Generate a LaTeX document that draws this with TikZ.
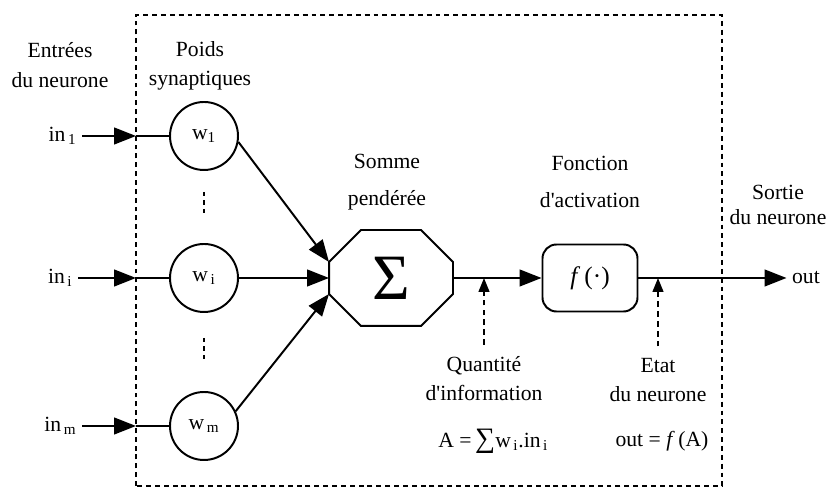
\documentclass[tikz,border=0pt]{standalone}
\usepackage{fontspec}
\setmainfont{Liberation Serif}
\usetikzlibrary{arrows.meta}

\begin{document}
\begin{tikzpicture}[>={Triangle[length=0.55cm,width=0.42cm]}, line width=1.4pt,
    every node/.style={font=\fontsize{15.4}{21}\selectfont},
    weight/.style={draw, circle, minimum size=1.7cm, inner sep=0pt},
    tag/.style={align=center},
    infoarrow/.style={dash pattern=on 4pt off 3pt, -{Triangle[length=0.35cm,width=0.27cm]}}]
    \useasboundingbox (0,0) rectangle (21,12.25);

    % Neuron frame
    \draw[dash pattern=on 3.5pt off 2.8pt] (3.4,0.1) rectangle (18.05,11.875);

    % Inputs
    \node[anchor=east] (in1) at (2.05,8.85) {in\textsubscript{\,1}};
    \node[anchor=east] (ini) at (1.95,5.3) {in\textsubscript{\,i}};
    \node[anchor=east] (inm) at (2.05,1.6) {in\textsubscript{\,m}};
    \coordinate (e1) at (3.4,8.85);
    \coordinate (ei) at (3.4,5.3);
    \coordinate (em) at (3.4,1.6);

    % Synaptic weights
    \node[weight] (w1) at (5.1,8.85) {w\textsubscript{1}};
    \node[weight] (wi) at (5.1,5.3) {w\textsubscript{\,i}};
    \node[weight] (wm) at (5.1,1.6) {w\textsubscript{\,m}};
    \draw[->] (in1) -- (e1);
    \draw (e1) -- (w1);
    \draw[->] (ini) -- (ei);
    \draw (ei) -- (wi);
    \draw[->] (inm) -- (em);
    \draw (em) -- (wm);
    \draw[dash pattern=on 3pt off 3pt] (5.1,7.45) -- (5.1,6.85);
    \draw[dash pattern=on 3pt off 3pt] (5.1,3.8) -- (5.1,3.2);

    % Weighted sum
    \node[minimum width=3.05cm, minimum height=2.35cm, inner sep=0pt] (sum) at (9.775,5.3)
        {\fontsize{46}{46}\selectfont Σ};
    \draw ([xshift=0.8cm]sum.north west) -- ([xshift=-0.8cm]sum.north east)
        -- ([yshift=-0.8cm]sum.north east) -- ([yshift=0.8cm]sum.south east)
        -- ([xshift=-0.8cm]sum.south east) -- ([xshift=0.8cm]sum.south west)
        -- ([yshift=0.8cm]sum.south west) -- ([yshift=-0.8cm]sum.north west) -- cycle;
    \coordinate (sumtl) at ([yshift=-0.8cm]sum.north west);
    \coordinate (sumbl) at ([yshift=0.8cm]sum.south west);
    \draw[->] (w1.-10) -- (sumtl);
    \draw[->] (wi) -- (sum);
    \draw[->] (wm.25) -- (sumbl);

    % Activation function and output
    \node[draw, rounded corners=0.35cm, minimum width=2.375cm, minimum height=1.675cm] (f) at (14.75,5.3)
        {\fontsize{18}{18}\selectfont\textit{f}\,(·)};
    \draw[->] (sum) -- (f);
    \node (out) at (20.15,5.3) {out};
    \draw[->] (f) -- (out);

    % Information and state
    \coordinate (qa) at (12.1,5.3);
    \coordinate (ea) at (16.45,5.3);
    \node[tag] (qty) at (12.1,2.78) {Quantité\\d\textquotesingle information};
    \node[tag] (state) at (16.45,2.75) {Etat\\du neurone};
    \draw[infoarrow] ([yshift=0.15cm]qty.north) -- (qa);
    \draw[infoarrow] ([yshift=0.15cm]state.north) -- (ea);
    \node (sumA) at (12.33,1.225) {A =\,{\fontsize{20}{20}\selectfont ∑}w\textsubscript{\,i}.in\textsubscript{\,i}};
    \node (outA) at (16.55,1.225) {out = \textit{f}\,(A)};

    % Headings
    \node[tag] (inputs) at (1.5,10.625) {Entrées\\du neurone};
    \node[tag] (weights) at (5.0,10.6) {Poids\\synaptiques};
    \node[tag] (sumlbl) at (9.675,7.7) {Somme\\[0.2cm]pendérée};
    \node[tag] (actlbl) at (14.75,7.7) {Fonction\\[0.2cm]d\textquotesingle activation};
    \node[tag] (outlbl) at (19.45,7.125) {Sortie\\[-0.1cm]du neurone};
\end{tikzpicture}
\end{document}
